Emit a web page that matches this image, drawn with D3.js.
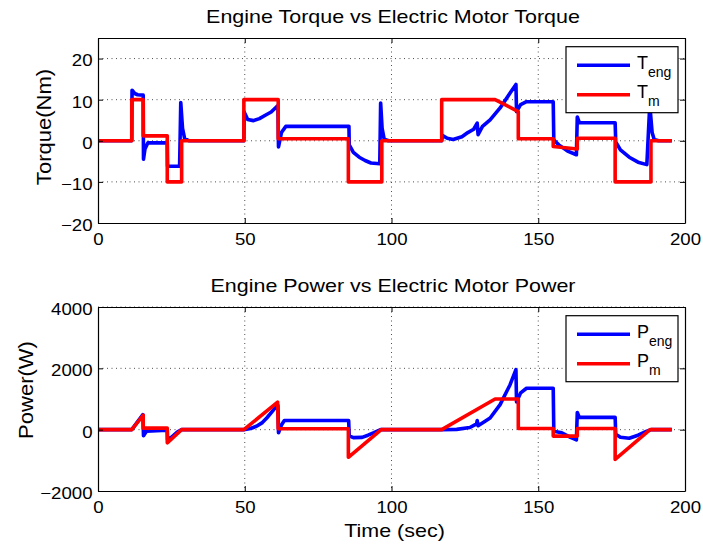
<!DOCTYPE html>
<html>
<head>
<meta charset="utf-8">
<script src="https://cdn.jsdelivr.net/npm/d3@7"></script>
<style>
body { margin: 0; background: #fff; }
text { font-family: "Liberation Sans", Arial, Helvetica, sans-serif; fill: #000; }
</style>
</head>
<body>
<svg id="chart" width="703" height="549"></svg>
<script>
// Tick values
var timeTicks = [0, 50, 100, 150, 200];
var torqueTicks = [-20, -10, 0, 10, 20];
var powerTicks = [-2000, 0, 2000, 4000];

// Torque series [time (s), torque (Nm)]
var torqueEngine = [[0,0],[11.5,0],[11.6,12.3],[12.5,11.5],[13.5,11.2],[15.4,11.1],[15.5,-4.5],[16,-2],[17,-0.5],[23.6,-0.5],
  [23.7,-6.2],[27.8,-6.2],[28.2,9.3],[28.8,3],[29.5,0.6],[31,0],[49.7,0],[49.8,7],[51,5.2],[53,4.9],[55,5.4],[57,6.2],
  [59,7],[61.3,8.6],[61.5,-1.5],[62.5,2],[64,3.5],[85.5,3.5],[85.6,-1],[87,-2.8],[89,-4],[91,-4.8],[93,-5.4],[96,-5.6],
  [96.3,9.2],[96.8,3],[97.5,0.4],[99,0],[117.1,0],[117.3,1.3],[119,0.6],[121,0.3],[124,1],[126,2],[128,2.8],[129.2,4.3],
  [129.5,1.5],[131,3.5],[133.6,5.1],[137,8],[140.4,11.6],[142.4,13.7],[142.6,7.1],[144,8.8],[146,9.5],[155.1,9.5],
  [155.3,0.2],[157,-1],[160,-2.5],[163,-3.4],[163.3,5.8],[164,4.4],[176.2,4.4],[176.4,-0.3],[178,-2.2],[181,-4],
  [184,-5.2],[187,-5.8],[188,8.8],[188.8,2],[189.5,0.3],[191,0],[195.5,0]];
var torqueMotor = [[0,0],[11.5,0],[11.5,10],[15.4,10],[15.4,1.2],[23.6,1.2],[23.6,-10],[28.5,-10],[28.5,0],[49.7,0],
  [49.7,10],[61.4,10],[61.4,0.5],[85.3,0.5],[85.3,-10],[96.7,-10],[96.7,0],[117.1,0],[117.1,10],[135.3,10],[143.2,7.1],
  [143.2,0.5],[155.1,0.5],[155.1,-1.4],[163.3,-2],[163.3,0.6],[176.2,0.6],[176.2,-10],[188.4,-10],[188.4,0],[195.5,0]];

// Power series [time (s), power (W)]
var powerEngine = [[0,0],[11.5,0],[15.3,490],[15.5,-200],[16.5,-50],[23.6,-20],[23.7,-330],[25,-250],[27,-80],[28.5,0],
  [49.7,0],[52,40],[54,110],[56,230],[57.5,380],[60.3,700],[61.3,790],[61.5,-100],[62.5,150],[63.5,300],[85.4,300],
  [85.6,-200],[87,-260],[90,-250],[92,-180],[94,-100],[96.3,0],[117.1,0],[122.2,10],[126.7,70],[129,190],[129.2,300],
  [129.5,130],[131.5,250],[133.6,380],[137,815],[140.4,1467],[142.4,1956],[142.6,900],[144,1200],[146,1350],
  [155.1,1350],[155.3,-50],[158,-100],[161,-250],[163,-330],[163.3,560],[164,400],[176.2,400],[176.4,-150],
  [178,-250],[181,-280],[184,-180],[187,-50],[188.5,0],[195.5,0]];
var powerMotor = [[0,0],[11.5,0],[15.4,470],[15.4,50],[23.6,50],[23.6,-430],[28.5,0],[49.7,0],[61.2,900],[61.4,30],
  [85.3,30],[85.3,-900],[96.5,0],[117.1,0],[135.3,1000],[143.2,1000],[143.2,40],[155.1,40],[155.1,-210],[163.3,-210],
  [163.3,40],[176.2,40],[176.2,-970],[188.1,0],[195.5,0]];

var svg = d3.select("#chart");
var sx = 1.13; // MATLAB text is a bit wider than Liberation Sans
var fmt = d3.format("d");

function drawPanel(cfg) {
    var x = d3.scaleLinear().domain([0, 200]).range([98, 685]);
    var y = d3.scaleLinear().domain(cfg.yDomain).range([cfg.bottom, cfg.top]);
    var g = svg.append("g");

    // dotted grid
    g.selectAll(".vgrid").data(timeTicks.slice(1, -1)).enter().append("line")
        .attr("x1", d => x(d)).attr("x2", d => x(d))
        .attr("y1", cfg.top).attr("y2", cfg.bottom)
        .attr("stroke", "#222").attr("stroke-width", 0.8).attr("stroke-dasharray", "1,3.5");
    g.selectAll(".hgrid").data(cfg.yTicks.slice(1)).enter().append("line")
        .attr("x1", 98).attr("x2", 685)
        .attr("y1", d => y(d)).attr("y2", d => y(d))
        .attr("stroke", "#222").attr("stroke-width", 0.8).attr("stroke-dasharray", "1,3.5");

    var line = d3.line().x(d => x(d[0])).y(d => y(d[1]));
    g.append("path").datum(cfg.engine).attr("d", line)
        .attr("fill", "none").attr("stroke", "#0000ff").attr("stroke-width", 3.6).attr("stroke-linejoin", "round");
    g.append("path").datum(cfg.motor).attr("d", line)
        .attr("fill", "none").attr("stroke", "#ff0000").attr("stroke-width", 3.6).attr("stroke-linejoin", "round");

    // axes, ticks pointing inward on all four sides
    var bottomAx = g.append("g").attr("transform", "translate(0," + cfg.bottom + ")")
        .call(d3.axisBottom(x).tickValues(timeTicks).tickFormat(fmt).tickSizeInner(-5).tickSizeOuter(0).tickPadding(10));
    bottomAx.selectAll("text").attr("transform", "scale(" + sx + ",1)");
    g.append("g").attr("transform", "translate(0," + cfg.top + ")")
        .call(d3.axisTop(x).tickValues(timeTicks).tickSizeInner(-5).tickSizeOuter(0).tickFormat(""));
    var leftAx = g.append("g").attr("transform", "translate(98,0)")
        .call(d3.axisLeft(y).tickValues(cfg.yTicks).tickFormat(fmt).tickSizeInner(-5).tickSizeOuter(0));
    leftAx.selectAll("text").attr("x", -5.5 / sx).attr("dy", "0.45em").attr("transform", "scale(" + sx + ",1)");
    g.append("g").attr("transform", "translate(685,0)")
        .call(d3.axisRight(y).tickValues(cfg.yTicks).tickSizeInner(-5).tickSizeOuter(0).tickFormat(""));

    g.selectAll(".domain").attr("stroke", "#000").attr("stroke-width", 1.2);
    g.selectAll(".tick line").attr("stroke", "#000");
    g.selectAll(".tick text").attr("font-size", 16.5).attr("font-family", null);

    // title and y label
    g.append("text").attr("transform", "translate(393," + (cfg.top - 14.7) + ") scale(" + sx + ",1)")
        .attr("text-anchor", "middle").attr("font-size", 19).text(cfg.title);
    g.append("text").attr("transform", "translate(" + cfg.labelX + "," + cfg.labelY + ") rotate(-90) scale(" + sx + ",1)")
        .attr("text-anchor", "middle").attr("font-size", 19.5).text(cfg.yLabel);

    // legend
    var lg = g.append("g").attr("transform", "translate(566," + (cfg.top + 8.7) + ")");
    lg.append("rect").attr("width", 112).attr("height", 66)
        .attr("fill", "#fff").attr("stroke", "#000").attr("stroke-width", 1.2);
    var rows = [{c: "#0000ff", sub: cfg.sub[0]}, {c: "#ff0000", sub: cfg.sub[1]}];
    rows.forEach(function (r, i) {
        var ry = 18.5 + i * 29.5;
        lg.append("line").attr("x1", 11).attr("x2", 64).attr("y1", ry).attr("y2", ry)
            .attr("stroke", r.c).attr("stroke-width", 3.6);
        var t = lg.append("text").attr("x", 71).attr("y", ry + 3.5).attr("font-size", 18);
        t.append("tspan").text(cfg.sym);
        t.append("tspan").attr("font-size", 14).attr("dy", 8).text(r.sub);
    });
}

drawPanel({top: 38, bottom: 223, yDomain: [-20, 25], yTicks: torqueTicks,
    engine: torqueEngine, motor: torqueMotor,
    title: "Engine Torque vs Electric Motor Torque", yLabel: "Torque(Nm)", labelX: 51, labelY: 127,
    sym: "T", sub: ["eng", "m"]});
drawPanel({top: 307, bottom: 491, yDomain: [-2000, 4000], yTicks: powerTicks,
    engine: powerEngine, motor: powerMotor,
    title: "Engine Power vs Electric Motor Power", yLabel: "Power(W)", labelX: 33, labelY: 390,
    sym: "P", sub: ["eng", "m"]});

svg.append("text").attr("transform", "translate(394.5,536.7) scale(" + sx + ",1)")
    .attr("text-anchor", "middle").attr("font-size", 19).text("Time (sec)");
</script>
</body>
</html>
